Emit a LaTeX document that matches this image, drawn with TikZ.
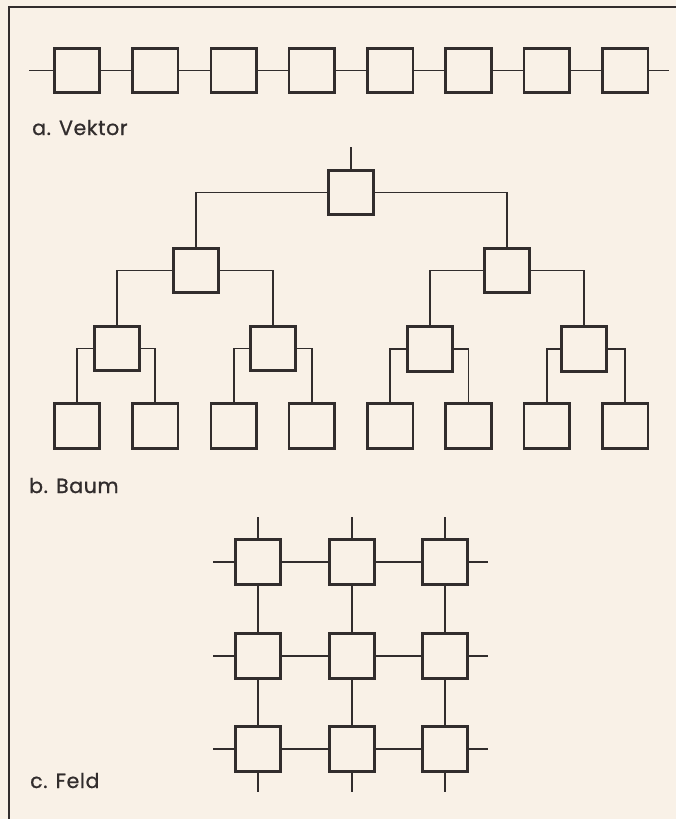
\documentclass[tikz,border=0pt]{standalone}
\usepackage{fontspec}
\setmainfont{Poppins}
\newfontfamily\lblfont[FakeBold=0.8,LetterSpace=3]{Poppins}
\definecolor{ink}{RGB}{50,45,45}
\definecolor{paper}{RGB}{249,241,231}
\begin{document}
\begin{tikzpicture}[x=1pt,y=-1pt,
  box/.style={draw=ink, line width=2.6pt, minimum width=45.5pt, minimum height=44.5pt, inner sep=0pt},
  link/.style={draw=ink, line width=1.8pt},
  frameline/.style={draw=ink, line width=1.5pt},
  lbl/.style={anchor=base west, font=\lblfont\fontsize{20.5}{24}\selectfont, text=ink, inner sep=0pt}]
\fill[paper] (0,0) rectangle (676,819);
\useasboundingbox (0,0) rectangle (676,819);
% frame
\coordinate (fTR) at (677,7);
\coordinate (fTL) at (9,7);
\coordinate (fBL) at (9,820);
\draw[frameline] (fTR) -- (fTL) -- (fBL);

% ---------- a. Vektor ----------
\foreach \i in {1,...,8} {
  \node[box] (v\i) at ({77+(\i-1)*78.3},70.5) {};
}
\coordinate (vL) at (29,70.5);
\coordinate (vR) at (669,70.5);
\draw[link] (vL) -- (v1);
\foreach \i [evaluate=\i as \j using int(\i+1)] in {1,...,7} {
  \draw[link] (v\i) -- (v\j);
}
\draw[link] (v8) -- (vR);
\node[lbl] (la) at (32,135) {a. Vektor};

% ---------- b. Baum ----------
\node[box] (r)  at (351,192.5) {};
\node[box] (a)  at (196,270.5) {};
\node[box] (b)  at (507,270.5) {};
\node[box] (aa) at (117,348.5) {};
\node[box] (ab) at (273,348.5) {};
\node[box] (ba) at (430,349) {};
\node[box] (bb) at (584,349) {};
\foreach \i in {1,...,8} {
  \node[box] (l\i) at ({77+(\i-1)*78.3},426) {};
}
\coordinate (rtop) at (351,147);
\draw[link] (rtop) -- (r.north);
\draw[link] (r.west) -| (a.north);
\draw[link] (r.east) -| (b.north);
\draw[link] (a.west) -| (aa.north);
\draw[link] (a.east) -| (ab.north);
\draw[link] (b.west) -| (ba.north);
\draw[link] (b.east) -| (bb.north);
\draw[link] (aa.west) -| (l1.north);
\draw[link] (aa.east) -| (l2.north);
\draw[link] (ab.west) -| (l3.north);
\draw[link] (ab.east) -| (l4.north);
\draw[link] (ba.west) -| (l5.north);
\draw[link] (ba.east) -| (l6.north);
\draw[link] (bb.west) -| (l7.north);
\draw[link] (bb.east) -| (l8.north);
\node[lbl] (lb) at (29,493) {b. Baum};

% ---------- c. Feld ----------
\foreach \r/\yy in {1/562,2/656,3/749} {
  \foreach \c/\xx in {1/258,2/352,3/445} {
    \node[box] (m\r\c) at (\xx,\yy) {};
  }
}
% horizontal links and stubs
\foreach \r/\yy in {1/562,2/656,3/749} {
  \coordinate (hl\r) at (213,\yy);
  \coordinate (hr\r) at (488,\yy);
  \draw[link] (hl\r) -- (m\r1);
  \draw[link] (m\r1) -- (m\r2);
  \draw[link] (m\r2) -- (m\r3);
  \draw[link] (m\r3) -- (hr\r);
}
% vertical links and stubs
\foreach \c/\xx in {1/258,2/352,3/445} {
  \coordinate (vt\c) at (\xx,517);
  \coordinate (vb\c) at (\xx,792);
  \draw[link] (vt\c) -- (m1\c);
  \draw[link] (m1\c) -- (m2\c);
  \draw[link] (m2\c) -- (m3\c);
  \draw[link] (m3\c) -- (vb\c);
}
\node[lbl] (lc) at (30,788) {c. Feld};
\end{tikzpicture}
\end{document}
